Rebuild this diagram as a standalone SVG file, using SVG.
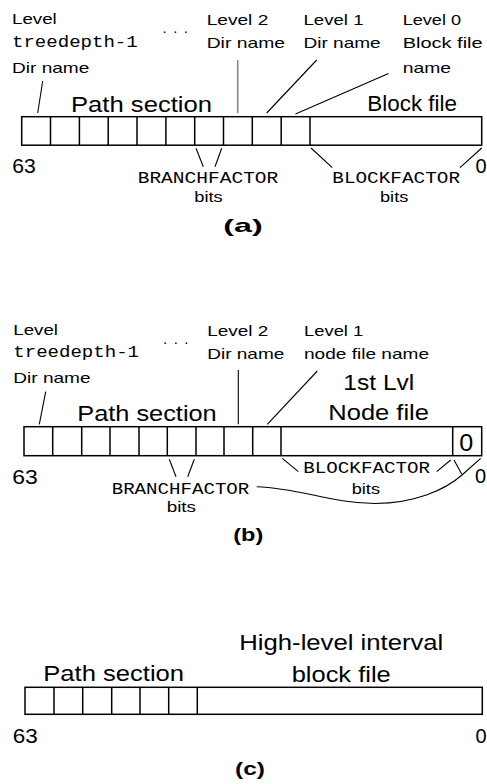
<svg xmlns="http://www.w3.org/2000/svg" width="487" height="784" viewBox="0 0 487 784">
  <style>
    text { font-family: "Liberation Sans", Arial, sans-serif; fill: #000; }
    .lbl { font-size: 15px; }
    .big { font-size: 22px; }
    .num { font-size: 20px; }
    .cap { font-size: 19px; font-weight: bold; }
    .mono { font-family: "Liberation Mono", "Courier New", monospace; font-size: 16px; }
    .box { fill: #fff; stroke: #000; stroke-width: 1.5; }
    .div { stroke: #000; stroke-width: 1.5; }
    .lead { stroke: #000; stroke-width: 1.1; fill: none; }
    .lead-gray { stroke: #888; stroke-width: 1.6; fill: none; }
  </style>

  <!-- ===== (a) directory tree + block file ===== -->
  <g id="a-bar">
    <rect class="box" x="21.7" y="116.7" width="460" height="28.5"/>
    <path class="div" d="M50.5 116.7V145.2M79.4 116.7V145.2M108.2 116.7V145.2M137 116.7V145.2M165.9 116.7V145.2M194.7 116.7V145.2M223.5 116.7V145.2M252.3 116.7V145.2M281.2 116.7V145.2M310 116.7V145.2"/>
  </g>
  <g id="a-labels">
    <text class="lbl" x="12" y="24" textLength="44.7" lengthAdjust="spacingAndGlyphs">Level</text>
    <text class="mono" x="12" y="46.7" textLength="125.7" lengthAdjust="spacingAndGlyphs">treedepth-1</text>
    <text class="lbl" x="12" y="72.7" textLength="77.3" lengthAdjust="spacingAndGlyphs">Dir name</text>
    <text class="lbl" x="162.5" y="33" textLength="25.5" lengthAdjust="spacing">. . .</text>
    <text class="lbl" x="206.7" y="25" textLength="61.6" lengthAdjust="spacingAndGlyphs">Level 2</text>
    <text class="lbl" x="206.7" y="48.3" textLength="78.3" lengthAdjust="spacingAndGlyphs">Dir name</text>
    <text class="lbl" x="303.5" y="25" textLength="60" lengthAdjust="spacingAndGlyphs">Level 1</text>
    <text class="lbl" x="303.5" y="48.3" textLength="77.2" lengthAdjust="spacingAndGlyphs">Dir name</text>
    <text class="lbl" x="402.7" y="25" textLength="58.3" lengthAdjust="spacingAndGlyphs">Level 0</text>
    <text class="lbl" x="402.7" y="48.3" textLength="80" lengthAdjust="spacingAndGlyphs">Block file</text>
    <text class="lbl" x="402.7" y="72.7" textLength="48.3" lengthAdjust="spacingAndGlyphs">name</text>
    <text class="big" x="71" y="111.5" textLength="141" lengthAdjust="spacingAndGlyphs">Path section</text>
    <text class="big" x="367.3" y="111" textLength="89.7" lengthAdjust="spacingAndGlyphs">Block file</text>
    <text class="num" x="12.3" y="173.3" textLength="23.5" lengthAdjust="spacingAndGlyphs">63</text>
    <text class="num" x="475.6" y="173.3">0</text>
    <text class="mono" x="137.7" y="183.3" textLength="140.6" lengthAdjust="spacingAndGlyphs">BRANCHFACTOR</text>
    <text class="lbl" x="194.3" y="201.7" textLength="28.4" lengthAdjust="spacingAndGlyphs">bits</text>
    <text class="mono" x="332.3" y="183.3" textLength="127.7" lengthAdjust="spacingAndGlyphs">BLOCKFACTOR</text>
    <text class="lbl" x="380" y="201.7" textLength="28.3" lengthAdjust="spacingAndGlyphs">bits</text>
    <text class="cap" x="223.3" y="232" textLength="39.4" lengthAdjust="spacingAndGlyphs">(a)</text>
  </g>

  <!-- ===== (b) directory tree + first-level node file ===== -->
  <g id="b-bar">
    <rect class="box" x="24" y="426.7" width="457.7" height="29"/>
    <path class="div" d="M52.7 426.7V455.7M81.7 426.7V455.7M110 426.7V455.7M139 426.7V455.7M167.3 426.7V455.7M196 426.7V455.7M224 426.7V455.7M252.7 426.7V455.7M281 426.7V455.7M452.7 426.7V455.7"/>
    <text x="459.3" y="450.5" style="font-size:24px" textLength="14" lengthAdjust="spacingAndGlyphs">0</text>
  </g>
  <g id="b-labels">
    <text class="lbl" x="13.3" y="335" textLength="44.7" lengthAdjust="spacingAndGlyphs">Level</text>
    <text class="mono" x="13.3" y="356.7" textLength="125.7" lengthAdjust="spacingAndGlyphs">treedepth-1</text>
    <text class="lbl" x="13.3" y="382.7" textLength="77.3" lengthAdjust="spacingAndGlyphs">Dir name</text>
    <text class="lbl" x="163" y="343.5" textLength="25.5" lengthAdjust="spacing">. . .</text>
    <text class="lbl" x="207.3" y="336" textLength="61" lengthAdjust="spacingAndGlyphs">Level 2</text>
    <text class="lbl" x="207.3" y="359" textLength="77" lengthAdjust="spacingAndGlyphs">Dir name</text>
    <text class="lbl" x="304" y="336" textLength="59.3" lengthAdjust="spacingAndGlyphs">Level 1</text>
    <text class="lbl" x="304" y="359" textLength="125" lengthAdjust="spacingAndGlyphs">node file name</text>
    <text class="big" x="77.3" y="421" textLength="139.4" lengthAdjust="spacingAndGlyphs">Path section</text>
    <text class="big" x="343.3" y="390" textLength="71" lengthAdjust="spacingAndGlyphs">1st Lvl</text>
    <text class="big" x="328.3" y="420" textLength="100.7" lengthAdjust="spacingAndGlyphs">Node file</text>
    <text class="num" x="12.3" y="484.3" textLength="25.5" lengthAdjust="spacingAndGlyphs">63</text>
    <text class="num" x="475" y="483.3">0</text>
    <text class="mono" x="111.7" y="494.3" textLength="137.6" lengthAdjust="spacingAndGlyphs">BRANCHFACTOR</text>
    <text class="lbl" x="166.7" y="511.7" textLength="29.3" lengthAdjust="spacingAndGlyphs">bits</text>
    <text class="mono" x="303.3" y="473.3" textLength="126.7" lengthAdjust="spacingAndGlyphs">BLOCKFACTOR</text>
    <text class="lbl" x="351.7" y="494.3" textLength="28.3" lengthAdjust="spacingAndGlyphs">bits</text>
    <text class="cap" x="233.3" y="541" textLength="30" lengthAdjust="spacingAndGlyphs">(b)</text>
  </g>

  <!-- ===== (c) high-level interval block file ===== -->
  <g id="c-bar">
    <rect class="box" x="25" y="687.3" width="457.3" height="27"/>
    <path class="div" d="M54 687.3V714.3M82.7 687.3V714.3M111.7 687.3V714.3M140 687.3V714.3M168.7 687.3V714.3M197.3 687.3V714.3"/>
  </g>
  <g id="c-labels">
    <text class="big" x="239.3" y="650" textLength="204" lengthAdjust="spacingAndGlyphs">High-level interval</text>
    <text class="big" x="291.7" y="681.7" textLength="99" lengthAdjust="spacingAndGlyphs">block file</text>
    <text class="big" x="43.3" y="680.7" textLength="140.7" lengthAdjust="spacingAndGlyphs">Path section</text>
    <text class="num" x="12.7" y="743.3" textLength="25" lengthAdjust="spacingAndGlyphs">63</text>
    <text class="num" x="475.6" y="743.3">0</text>
    <text class="cap" x="235" y="775" textLength="30" lengthAdjust="spacingAndGlyphs">(c)</text>
  </g>

  <!-- leader lines and braces -->
  <g id="connectors">
    <!-- (a) -->
    <line class="lead" x1="42.7" y1="81" x2="37.7" y2="113"/>
    <line class="lead-gray" x1="237.7" y1="60" x2="237.7" y2="113"/>
    <line class="lead" x1="316.7" y1="60" x2="266.7" y2="113"/>
    <line class="lead" x1="388.5" y1="73.5" x2="295.5" y2="114"/>
    <line class="lead" x1="196" y1="148.3" x2="203.3" y2="166.7"/>
    <line class="lead" x1="221.7" y1="148.3" x2="215" y2="166.7"/>
    <line class="lead" x1="311" y1="148" x2="332.3" y2="167.7"/>
    <line class="lead" x1="481.7" y1="148" x2="460" y2="167.7"/>
    <!-- (b) -->
    <line class="lead" x1="45.7" y1="391.7" x2="39.3" y2="424.3"/>
    <line class="lead" x1="238.3" y1="370" x2="238.3" y2="424.3"/>
    <line class="lead" x1="317.3" y1="371" x2="267.3" y2="424.3"/>
    <line class="lead" x1="169.3" y1="459.3" x2="176" y2="476.7"/>
    <line class="lead" x1="194.3" y1="459.3" x2="187.7" y2="476.7"/>
    <line class="lead" x1="282.3" y1="458.3" x2="298.3" y2="471.7"/>
    <line class="lead" x1="436.7" y1="471.7" x2="450.7" y2="460"/>
    <line class="lead" x1="454" y1="460" x2="461.7" y2="474"/>
    <path class="lead" d="M480.7 458.3L462 475C445 490 415 503 375 503.5C330 503 300 488 256.7 486.7"/>
  </g>
</svg>
